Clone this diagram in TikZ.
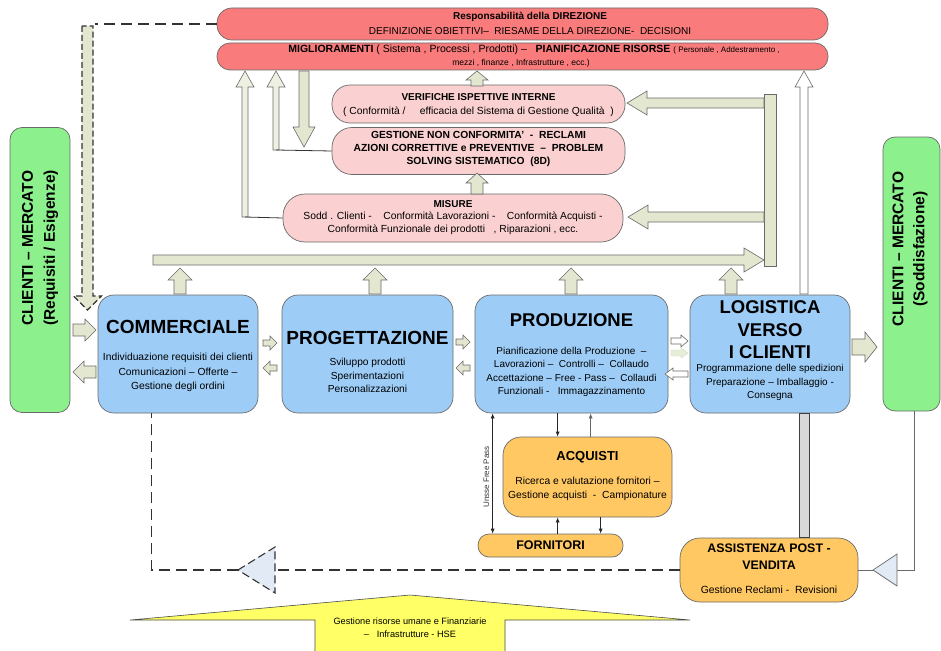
\documentclass[tikz,border=0pt]{standalone}
\usepackage{fontspec}
\setmainfont{Liberation Sans}
\usetikzlibrary{arrows.meta,calc}

\definecolor{redfill}{HTML}{F97B7B}
\definecolor{pinkfill}{HTML}{FAD0D0}
\definecolor{bluefill}{HTML}{9DCDF7}
\definecolor{greenfill}{HTML}{8CF08C}
\definecolor{orangefill}{HTML}{FFC862}
\definecolor{beige}{HTML}{E3E7CF}
\definecolor{lightbeige}{HTML}{EEF0E2}
\definecolor{edge}{HTML}{6A6A6A}
\definecolor{yellowfill}{HTML}{FFFF66}
\definecolor{trifill}{HTML}{E2EAF6}
\definecolor{barfill}{HTML}{D9D9D9}
\definecolor{faintgreen}{HTML}{E6EED8}

\newcommand{\setfs}[2]{\fontsize{#1}{#2}\selectfont}

% vertical block arrow: style, x, y of tail, y of tip, shaft half width, head half width, head length
\newcommand{\blkv}[7]{%
  \pgfmathsetmacro{\blkhb}{#4 > #3 ? #4-#7 : #4+#7}%
  \draw[#1] (#2-#5,#3) -- (#2-#5,\blkhb) -- (#2-#6,\blkhb) -- (#2,#4)
    -- (#2+#6,\blkhb) -- (#2+#5,\blkhb) -- (#2+#5,#3) -- cycle;}
% horizontal block arrow: style, y, x of tail, x of tip, shaft half width, head half width, head length
\newcommand{\blkh}[7]{%
  \pgfmathsetmacro{\blkhb}{#4 > #3 ? #4-#7 : #4+#7}%
  \draw[#1] (#3,#2-#5) -- (\blkhb,#2-#5) -- (\blkhb,#2-#6) -- (#4,#2)
    -- (\blkhb,#2+#6) -- (\blkhb,#2+#5) -- (#3,#2+#5) -- cycle;}

\tikzset{
  box/.style={draw=edge, line width=0.7pt, inner sep=0pt},
  redbox/.style={box, fill=redfill},
  pinkbox/.style={box, fill=pinkfill},
  bluebox/.style={box, fill=bluefill, rounded corners=16pt},
  greenbox/.style={box, fill=greenfill, rounded corners=12pt},
  orangebox/.style={box, fill=orangefill},
  txt/.style={inner sep=0pt, align=center, text=black},
  blockarr/.style={draw=edge, fill=beige, line width=0.6pt},
  lightarr/.style={draw=edge, fill=lightbeige, line width=0.6pt},
  whitearr/.style={draw=edge, fill=white, line width=0.6pt},
  faintarr/.style={draw=faintgreen!80!gray, fill=faintgreen, line width=0.4pt},
  thinarr/.style={draw=black!85, line width=0.7pt, -{Latex[length=5pt,width=4pt]}},
  thinline/.style={draw=edge, line width=0.8pt},
  dashline/.style={draw=black!80, line width=1.2pt, dash pattern=on 11pt off 6pt},
  dasharr/.style={draw=black!80, fill=beige, line width=1.1pt, dash pattern=on 6pt off 3pt},
  dashtri/.style={draw=black!80, fill=trifill, line width=1.1pt, dash pattern=on 8pt off 4pt},
}

\begin{document}
\begin{tikzpicture}[x=1pt,y=-1pt]
\useasboundingbox (0,0) rectangle (941,650);

% ---------- management banners ----------
\node[redbox, rounded corners=15pt, minimum width=611pt, minimum height=32pt] (dir) at (522.5,24) {};
\node[txt, font=\setfs{10}{11}\bfseries] (dirT) at (530,16.5) {Responsabilità della DIREZIONE};
\node[txt, font=\setfs{10}{11}] (dirB) at (530,31) {DEFINIZIONE OBIETTIVI–\ \ RIESAME DELLA DIREZIONE-\ \ DECISIONI};

\node[redbox, rounded corners=13pt, minimum width=611pt, minimum height=27pt] (mig) at (522.5,56.5) {};
\node[txt, font=\setfs{10.5}{11}] (migT) at (534,50) {\textbf{MIGLIORAMENTI} ( Sistema , Processi , Prodotti) –\ \ \ \textbf{PIANIFICAZIONE RISORSE} {\setfs{8}{9}( Personale , Addestramento ,}};
\node[txt, font=\setfs{8.5}{9}] (migB) at (521,63.5) {mezzi , finanze , Infrastrutture , ecc.)};

% ---------- quality boxes ----------
\node[pinkbox, rounded corners=18pt, minimum width=293pt, minimum height=38pt] (ver) at (478.5,104) {};
\node[txt, font=\setfs{10}{11}\bfseries] (verT) at (478.5,97) {VERIFICHE ISPETTIVE INTERNE};
\node[txt, font=\setfs{10.3}{11}] (verB) at (478.5,111.5) {( Conformità /\ \ \ \ \ efficacia del Sistema di Gestione Qualità\ \ )};

\node[pinkbox, rounded corners=20pt, minimum width=293pt, minimum height=47pt] (gnc) at (478.5,151) {};
\node[txt, font=\setfs{10.3}{13}\bfseries] (gncT) at (478.5,148.5) {GESTIONE NON CONFORMITA'\ \ -\ \ RECLAMI\\
  AZIONI CORRETTIVE e PREVENTIVE\ \ –\ \ PROBLEM\\ SOLVING SISTEMATICO\ \ (8D)};

\node[pinkbox, rounded corners=22pt, minimum width=340pt, minimum height=48pt] (mis) at (453,218) {};
\node[txt, font=\setfs{10}{11}\bfseries] (misT) at (453,204.5) {MISURE};
\node[txt, font=\setfs{10.3}{13}] (misB) at (453,223) {Sodd . Clienti -\ \ \ \ Conformità Lavorazioni -\ \ \ \ Conformità Acquisti -\\
  Conformità Funzionale dei prodotti\ \ \ , Riparazioni , ecc.};

% ---------- market boxes ----------
\node[greenbox, minimum width=60pt, minimum height=285pt] (cliL) at (40,270) {};
\node[txt, rotate=90, font=\setfs{15.5}{22}\bfseries] (cliLT) at (40,248) {CLIENTI – MERCATO\\(Requisiti / Esigenze)};
\node[greenbox, minimum width=57pt, minimum height=274pt] (cliR) at (911.5,274) {};
\node[txt, rotate=90, font=\setfs{15.5}{21}\bfseries] (cliRT) at (910,249) {CLIENTI – MERCATO\\(Soddisfazione)};

% ---------- process boxes ----------
\node[bluebox, minimum width=160pt, minimum height=118pt] (comm) at (178,354) {};
\node[txt, font=\setfs{19}{20}\bfseries] (commT) at (178,327) {COMMERCIALE};
\node[txt, font=\setfs{10.3}{14.5}] (commB) at (178,372.5) {Individuazione requisiti dei clienti\\Comunicazioni – Offerte –\\Gestione degli ordini};

\node[bluebox, minimum width=171pt, minimum height=118pt] (prog) at (367.5,354) {};
\node[txt, font=\setfs{19}{20}\bfseries] (progT) at (367.5,338) {PROGETTAZIONE};
\node[txt, font=\setfs{10.2}{13.5}] (progB) at (367.5,375.5) {Sviluppo prodotti\\Sperimentazioni\\Personalizzazioni};

\node[bluebox, minimum width=193pt, minimum height=118pt] (prod) at (571.5,354) {};
\node[txt, font=\setfs{18.5}{20}\bfseries] (prodT) at (571.5,320) {PRODUZIONE};
\node[txt, font=\setfs{10}{13.3}] (prodB) at (571.5,372) {Pianificazione della Produzione\ \ –\\Lavorazioni –\ \ Controlli –\ \ Collaudo\\
  Accettazione – Free - Pass –\ \ Collaudi\\Funzionali -\ \ \ Immagazzinamento};

\node[bluebox, minimum width=160pt, minimum height=118pt] (logi) at (770,354) {};
\node[txt, font=\setfs{18.5}{22.5}\bfseries] (logiT) at (770,330) {LOGISTICA\\VERSO\\I CLIENTI};
\node[txt, font=\setfs{10}{13.5}] (logiB) at (770,382.5) {Programmazione delle spedizioni\\Preparazione – Imballaggio -\\Consegna};

% ---------- purchasing and after-sales ----------
\node[orangebox, rounded corners=18pt, minimum width=169pt, minimum height=80pt] (acq) at (587.5,477) {};
\node[txt, font=\setfs{13}{14}\bfseries] (acqT) at (587.5,457) {ACQUISTI};
\node[txt, font=\setfs{10.3}{14}] (acqB) at (587.5,489) {Ricerca e valutazione fornitori –\\Gestione acquisti\ \ -\ \ Campionature};

\node[orangebox, rounded corners=11pt, minimum width=145pt, minimum height=23pt] (forn) at (550.5,545.5) {};
\node[txt, font=\setfs{12.5}{14}\bfseries] (fornT) at (550.5,545.5) {FORNITORI};

\node[orangebox, rounded corners=20pt, minimum width=178pt, minimum height=64pt] (ass) at (769,570) {};
\node[txt, font=\setfs{12.4}{17}\bfseries] (assT) at (769,556.5) {ASSISTENZA POST -\\VENDITA};
\node[txt, font=\setfs{10.4}{11}] (assB) at (769,590) {Gestione Reclami -\ \ Revisioni};

% ---------- resources ----------
\draw[draw=black!70, fill=yellowfill, line width=0.6pt]
  (130,620) -- (410,595) -- (690,620) -- (505,620) -- (505,652) -- (315,652) -- (315,620) -- cycle;
\node[txt, font=\setfs{9.2}{13}] (hr) at (410,627.5) {Gestione risorse umane e Finanziarie\\–\ \ \ Infrastrutture - HSE};

% ---------- thin connectors around purchasing ----------
\draw[thinarr] ($(prod.south west)+(83,0)$) -- ($(acq.north west)+(55,0)$);
\draw[thinarr, draw=black!60] ($(acq.north west)+(88,0)$) -- ($(prod.south west)+(116,0)$);
\draw[thinarr] ($(forn.north west)+(80,0)$) -- ($(acq.south west)+(55,0)$);
\draw[thinarr] ($(acq.south west)+(98,0)$) -- ($(forn.north west)+(123,0)$);
\draw[thinarr, {Latex[length=5pt,width=4pt]}-{Latex[length=5pt,width=4pt]}]
  ($(prod.south west)+(18,0)$) -- ($(forn.north west)+(15,0)$);
\node[txt, rotate=90, font=\setfs{8}{9}, text=black!80] (fp) at (486.5,477) {Unsse Free Pass};

% ---------- feedback from the customer ----------
\draw[thinline] ($(cliR.south west)+(32,0)$) |- (897,570);
\draw[draw=edge, fill=trifill, line width=0.7pt] (873,570) -- (897,554) -- (897,586) -- cycle;
\draw[thinline] (ass.east) -- (873,570);
\draw[draw=black!75, fill=barfill, line width=0.7pt] ($(logi.south west)+(110,0)$) rectangle ($(ass.north west)+(130,0)$);

% after-sales back to sales
\draw[dashline] (ass.west) -- (275,570);
\draw[dashtri] (238,570) -- (275,547) -- (275,593) -- cycle;
\draw[dashline] (238,570) -| ($(comm.south west)+(54,0)$);

% direction to market requirements
\draw[dashline] (dir.west) -- (95,24);
\blkv{dasharr}{87.5}{26}{310}{5.5}{14}{14}

% ---------- block arrows ----------
\blkh{blockarr}{330}{73}{96}{6}{11}{11}
\blkh{blockarr}{372}{96}{73}{6}{11}{11}
\blkh{blockarr}{343}{263}{277}{3}{7}{7}
\blkh{blockarr}{368}{277}{263}{3}{7}{7}
\blkh{blockarr}{342}{456}{470}{3}{7}{7}
\blkh{blockarr}{368}{470}{456}{3}{7}{7}
\blkh{whitearr}{341}{671}{688}{3}{6}{7}
\blkh{faintarr}{353}{671}{688}{3}{5}{7}
\blkh{whitearr}{374}{688}{665}{3}{6}{8}
\blkh{blockarr}{347}{852}{877}{8}{15}{12}

% flow of measures
\draw[blockarr] (764,94) rectangle (776,266);
\blkh{blockarr}{260}{153}{764}{5}{12}{20}
\blkh{blockarr}{103}{764}{627}{5}{12}{20}
\blkh{blockarr}{217}{764}{628}{5}{12}{20}
\blkv{blockarr}{180}{294}{268}{6}{12}{12}
\blkv{blockarr}{375}{294}{268}{6}{12}{12}
\blkv{blockarr}{571}{294}{268}{6}{12}{12}
\blkv{blockarr}{731}{294}{268}{6}{12}{12}

% feedback to management
\blkv{lightarr}{245}{217}{71}{3}{9}{16}
\draw[thinline, draw=black!80] (245,217) -- (mis.west);
\blkv{lightarr}{276}{150}{71}{3}{9}{16}
\draw[thinline, draw=black!80] (276,150) -- (gnc.west);
\blkv{blockarr}{304}{71}{147}{5}{11}{20}
\blkv{blockarr}{477}{86}{71}{6}{11}{9}
\blkv{blockarr}{477}{194}{173}{6}{11}{10}
\blkv{whitearr}{804}{294}{71}{4}{9}{16}

\end{tikzpicture}
\end{document}
